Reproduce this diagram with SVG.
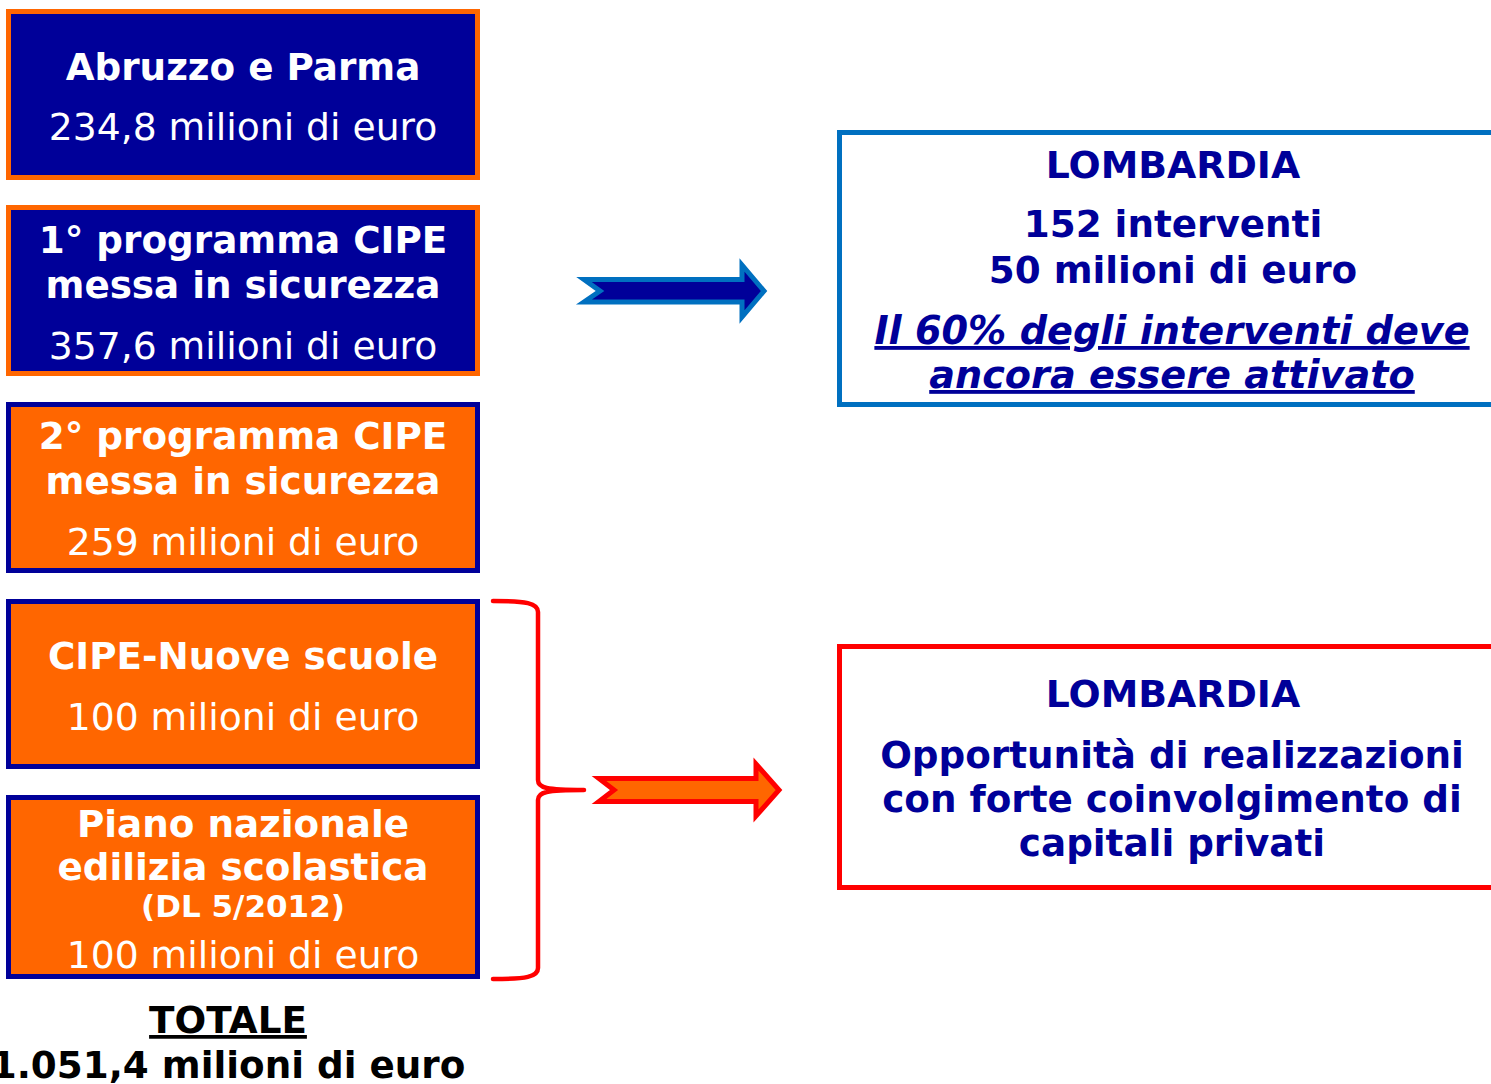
<svg xmlns="http://www.w3.org/2000/svg" width="1491" height="1084" viewBox="0 0 1491 1084">
<style>
text{font-family:"DejaVu Sans","Verdana",sans-serif;text-anchor:middle}
.b{font-weight:bold}
.w{fill:#FFFFFF}
.dk{fill:#000099}
.blk{fill:#000000}
.t37{font-size:37.3px}
.r37{font-size:37.7px}
.t38{font-size:37.8px}
.t31{font-size:31px}
.bluebox{fill:#000099;stroke:#FF6600;stroke-width:5}
.orbox{fill:#FF6600;stroke:#000099;stroke-width:5}
.it{font-style:italic;text-decoration:underline;font-size:38.2px}
</style>
<rect width="1491" height="1084" fill="#FFFFFF"/>
<g id="node-abruzzo">
<rect class="bluebox" x="8.5" y="11.5" width="469" height="166"/>
<text class="b w t37" x="243" y="80">Abruzzo e Parma</text>
<text class="w r37" x="243" y="140">234,8 milioni di euro</text>
</g>
<g id="node-cipe1">
<rect class="bluebox" x="8.5" y="207.5" width="469" height="166"/>
<text class="b w t37" x="243" y="253">1° programma CIPE</text>
<text class="b w t37" x="243" y="298">messa in sicurezza</text>
<text class="w r37" x="243" y="359">357,6 milioni di euro</text>
</g>
<g id="node-cipe2">
<rect class="orbox" x="8.5" y="404.5" width="469" height="166"/>
<text class="b w t37" x="243" y="449">2° programma CIPE</text>
<text class="b w t37" x="243" y="494">messa in sicurezza</text>
<text class="w r37" x="243" y="555">259 milioni di euro</text>
</g>
<g id="node-nuove-scuole">
<rect class="orbox" x="8.5" y="601.5" width="469" height="165"/>
<text class="b w t37" x="243" y="669">CIPE-Nuove scuole</text>
<text class="w r37" x="243" y="730">100 milioni di euro</text>
</g>
<g id="node-piano">
<rect class="orbox" x="8.5" y="797.5" width="469" height="179"/>
<text class="b w t37" x="243" y="837">Piano nazionale</text>
<text class="b w t37" x="243" y="880">edilizia scolastica</text>
<text class="b w t31" x="243" y="917">(DL 5/2012)</text>
<text class="w r37" x="243" y="968">100 milioni di euro</text>
</g>
<g id="node-totale">
<text class="b blk t37" x="228" y="1033" text-decoration="underline">TOTALE</text>
<text class="b blk t37" x="228" y="1078">1.051,4 milioni di euro</text>
</g>
<g id="node-lombardia1">
<rect x="839.5" y="132.5" width="670" height="272" fill="#FFFFFF" stroke="#0070C0" stroke-width="5"/>
<text class="b dk t38" x="1173" y="178">LOMBARDIA</text>
<text class="b dk t37" x="1173" y="237">152 interventi</text>
<text class="b dk t37" x="1173" y="283">50 milioni di euro</text>
<text class="b dk it" x="1172" y="344">Il 60% degli interventi deve</text>
<text class="b dk it" x="1172" y="388">ancora essere attivato</text>
</g>
<g id="node-lombardia2">
<rect x="839.5" y="646.5" width="670" height="241" fill="#FFFFFF" stroke="#FF0000" stroke-width="5"/>
<text class="b dk t38" x="1173" y="707">LOMBARDIA</text>
<text class="b dk t37" x="1172" y="768">Opportunità di realizzazioni</text>
<text class="b dk t37" x="1172" y="812">con forte coinvolgimento di</text>
<text class="b dk t37" x="1172" y="856">capitali privati</text>
</g>
<g id="connectors">
<polygon points="584,279.5 742,279.5 742,265 764,291 742,317 742,302 584,302 600,291" fill="#000099" stroke="#0070C0" stroke-width="5" stroke-linejoin="miter"/>
<path d="M493,601 C526,601 538,603 538,612 L538,780 C538,788 546,790 584,790 C546,790 538,792 538,800 L538,968 C538,977 526,979 493,979" fill="none" stroke="#FF0000" stroke-width="4.5" stroke-linecap="round" stroke-linejoin="round"/>
<polygon points="599,778.5 756,778.5 756,764 779,790 756,816 756,801.5 599,801.5 614,790" fill="#FF6600" stroke="#FF0000" stroke-width="5" stroke-linejoin="miter"/>
</g>
</svg>
